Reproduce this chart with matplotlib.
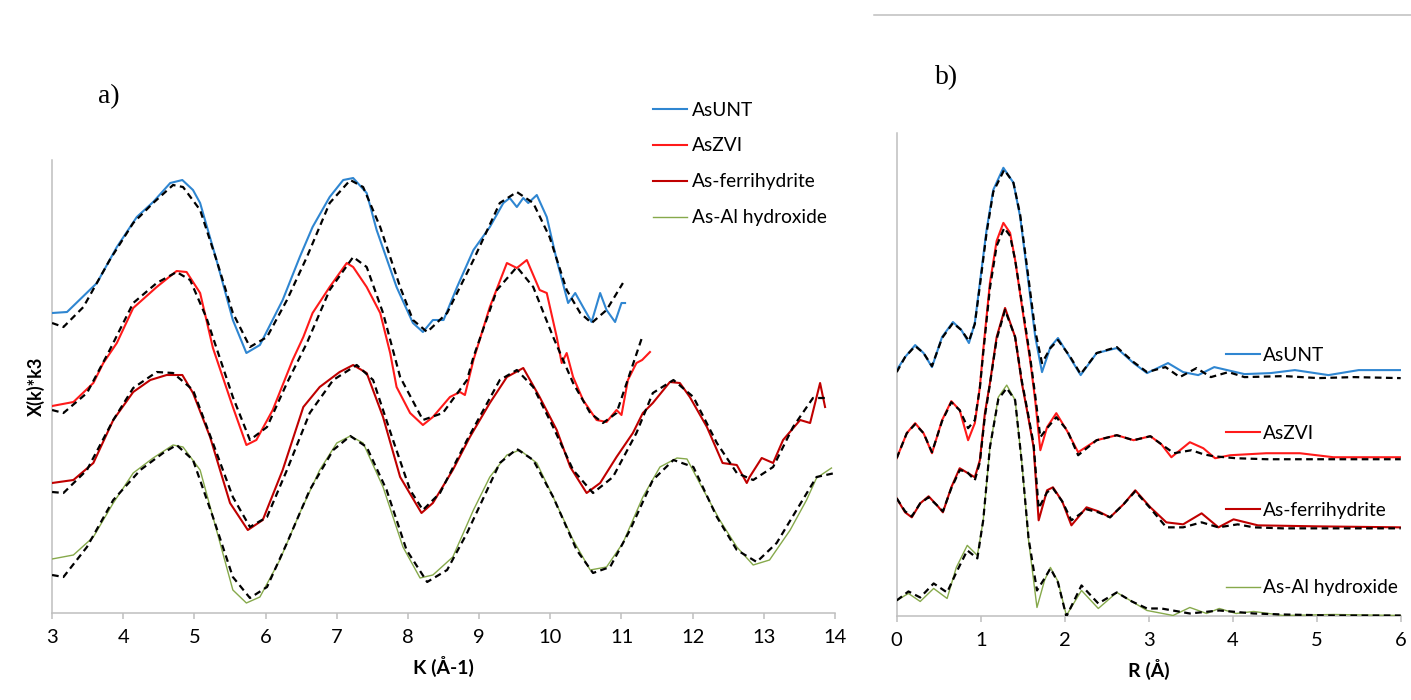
import matplotlib
matplotlib.use('Agg')
import matplotlib.pyplot as plt
from matplotlib.lines import Line2D

plt.rcParams['font.family'] = ['Lato', 'DejaVu Sans']

# ---- k-space chi(k)*k^3, stacked (arbitrary offset units) ----
k_unt = [3.0, 3.21, 3.63, 3.91, 4.19, 4.42, 4.66, 4.83, 4.98, 5.08, 5.31, 5.54, 5.73, 5.92, 6.24, 6.48,
         6.66, 6.90, 7.09, 7.23, 7.42, 7.56, 7.84, 8.07, 8.21, 8.35, 8.50, 8.69, 8.92, 9.15, 9.34, 9.43,
         9.53, 9.62, 9.69, 9.81, 9.95, 10.09, 10.25, 10.35, 10.46, 10.58, 10.70, 10.79, 10.91, 11.0, 11.05]
chi_unt = [30.0, 30.1, 33.0, 36.6, 39.6, 41.1, 43.0, 43.3, 42.3, 41.0, 35.3, 29.3, 26.0, 26.8, 31.3, 35.6,
           38.6, 41.6, 43.3, 43.5, 42.0, 38.3, 32.6, 29.0, 28.1, 29.3, 29.3, 32.6, 36.3, 38.6, 41.0, 41.5,
           40.6, 41.5, 41.0, 41.8, 39.6, 35.3, 31.0, 32.0, 30.6, 29.1, 32.0, 30.3, 29.1, 31.0, 31.0]
k_unt_fit = [3.0, 3.16, 3.44, 3.81, 4.14, 4.42, 4.70, 4.84, 5.08, 5.31, 5.54, 5.78, 6.02, 6.30, 6.58, 6.90,
             7.19, 7.37, 7.61, 7.89, 8.07, 8.27, 8.55, 8.92, 9.29, 9.53, 9.76, 9.99, 10.23, 10.42, 10.58,
             10.79, 11.02]
chi_unt_fit = [29.0, 28.6, 30.6, 35.3, 39.0, 41.0, 42.8, 42.6, 40.3, 35.3, 30.0, 26.6, 27.6, 31.3, 35.6, 41.0,
               43.3, 42.6, 38.6, 32.6, 29.3, 28.1, 30.0, 35.3, 41.0, 42.1, 41.0, 37.6, 32.3, 30.0, 29.0,
               30.3, 33.0]

k_zvi = [3.0, 3.3, 3.58, 3.72, 3.91, 4.14, 4.47, 4.75, 4.89, 5.08, 5.26, 5.54, 5.73, 5.87, 6.10, 6.38,
         6.53, 6.66, 6.90, 7.14, 7.23, 7.42, 7.61, 7.75, 7.84, 8.03, 8.21, 8.35, 8.59, 8.73, 8.80, 8.92,
         9.15, 9.39, 9.53, 9.67, 9.85, 9.95, 10.09, 10.16, 10.23, 10.32, 10.46, 10.65, 10.79, 10.93, 11.0,
         11.09, 11.21, 11.29, 11.40]
chi_zvi = [20.7, 21.1, 23.0, 25.0, 27.0, 30.5, 32.6, 34.2, 34.1, 32.0, 26.5, 20.6, 16.8, 17.3, 20.3, 25.3,
           27.6, 30.0, 32.6, 35.0, 34.6, 32.6, 30.0, 26.0, 22.6, 20.0, 18.8, 19.6, 21.6, 22.1, 21.8, 25.3,
           30.6, 35.0, 34.5, 35.3, 32.3, 32.0, 27.6, 25.0, 26.0, 23.6, 21.3, 19.3, 19.1, 20.3, 19.8,
           23.3, 25.0, 25.3, 26.1]
k_zvi_fit = [3.0, 3.16, 3.49, 3.81, 4.14, 4.47, 4.75, 4.94, 5.17, 5.31, 5.54, 5.78, 6.02, 6.30, 6.58, 6.90,
             7.23, 7.42, 7.65, 7.89, 8.21, 8.49, 8.83, 8.92, 9.25, 9.53, 9.76, 10.04, 10.32, 10.56, 10.74,
             10.93, 11.12, 11.30]
chi_zvi_fit = [20.3, 20.0, 22.0, 26.3, 31.0, 33.0, 34.1, 33.3, 29.5, 26.5, 21.6, 17.3, 18.6, 23.0, 27.0, 32.3,
               35.6, 34.6, 30.0, 23.6, 19.3, 20.0, 23.3, 25.6, 32.3, 34.6, 32.6, 27.6, 23.0, 20.0, 19.0,
               20.0, 24.0, 27.8]

k_fh = [3.0, 3.3, 3.58, 3.86, 4.14, 4.38, 4.61, 4.83, 4.98, 5.22, 5.50, 5.75, 5.96, 6.24, 6.53, 6.76, 7.04,
        7.23, 7.42, 7.65, 7.89, 8.19, 8.35, 8.63, 8.87, 9.15, 9.39, 9.62, 9.85, 10.09, 10.28, 10.51, 10.70,
        10.93, 11.16, 11.30, 11.44, 11.68, 11.82, 11.96, 12.20, 12.42, 12.62, 12.76, 12.80, 12.97, 13.13,
        13.27, 13.51, 13.65, 13.79, 13.86]
chi_fh = [13.0, 13.3, 15.0, 19.3, 22.1, 23.3, 23.8, 23.8, 22.0, 17.6, 11.0, 8.3, 9.3, 14.3, 20.6, 22.6, 24.1,
          24.8, 24.0, 19.6, 13.6, 10.0, 11.0, 14.3, 17.6, 21.0, 23.6, 24.5, 21.6, 18.3, 14.6, 12.0, 13.0,
          15.6, 18.0, 20.0, 21.0, 23.1, 23.0, 21.6, 18.6, 15.0, 14.8, 13.0, 13.6, 15.5, 15.0,
          17.3, 19.3, 19.0, 23.0, 20.6]
k_fh_fit = [3.0, 3.16, 3.49, 3.86, 4.14, 4.47, 4.70, 4.98, 5.26, 5.54, 5.78, 6.02, 6.30, 6.62, 6.95, 7.28,
            7.51, 7.79, 8.03, 8.21, 8.45, 8.83, 9.29, 9.53, 9.76, 10.04, 10.32, 10.60, 10.88, 11.21, 11.44,
            11.73, 12.01, 12.34, 12.62, 12.85, 13.13, 13.41, 13.69, 13.88]
chi_fh_fit = [12.1, 12.0, 14.3, 19.3, 22.5, 24.1, 24.0, 22.3, 17.0, 11.6, 8.6, 9.6, 14.3, 20.0, 23.3, 24.8,
              23.3, 17.3, 12.3, 10.3, 12.0, 17.3, 23.3, 24.3, 22.6, 18.6, 14.3, 12.0, 13.6, 18.0, 22.0,
              23.3, 21.6, 17.0, 14.0, 13.3, 14.6, 18.6, 21.5, 21.5]

k_al = [3.0, 3.3, 3.58, 3.86, 4.14, 4.42, 4.70, 4.84, 5.08, 5.31, 5.54, 5.73, 5.92, 6.20, 6.48, 6.76, 7.0,
        7.19, 7.37, 7.65, 7.93, 8.17, 8.35, 8.63, 8.92, 9.15, 9.39, 9.57, 9.81, 10.04, 10.32, 10.56, 10.79,
        11.02, 11.30, 11.54, 11.78, 11.92, 12.15, 12.38, 12.62, 12.85, 13.08, 13.37, 13.60, 13.74, 13.95]
chi_al = [5.4, 5.8, 7.6, 11.0, 14.0, 15.5, 16.8, 16.6, 14.3, 8.3, 2.3, 1.0, 1.6, 5.3, 10.0, 14.3, 17.0,
          17.7, 17.0, 12.6, 6.6, 3.5, 3.8, 5.6, 10.3, 13.6, 15.8, 16.3, 15.0, 11.6, 7.3, 4.3, 4.6,
          7.0, 11.6, 14.6, 15.5, 15.4, 12.3, 9.3, 6.6, 4.8, 5.3, 8.3, 11.3, 13.5, 14.5]
k_al_fit = [3.0, 3.16, 3.49, 3.86, 4.24, 4.56, 4.75, 4.98, 5.26, 5.54, 5.78, 6.02, 6.30, 6.62, 6.95, 7.19,
            7.42, 7.70, 7.98, 8.27, 8.55, 8.83, 9.29, 9.53, 9.76, 10.04, 10.37, 10.60, 10.84, 11.12, 11.44,
            11.73, 12.01, 12.34, 12.62, 12.90, 13.18, 13.46, 13.74, 14.0]
chi_al_fit = [3.8, 3.6, 6.6, 11.3, 14.3, 16.0, 16.8, 15.3, 9.6, 3.6, 1.5, 2.6, 7.0, 12.3, 16.3, 17.7,
              16.6, 12.3, 6.3, 3.1, 4.3, 8.0, 15.0, 16.4, 15.3, 11.6, 6.3, 4.0, 4.6, 8.3, 13.3,
              15.3, 14.6, 9.6, 6.3, 5.1, 7.0, 10.3, 13.6, 14.0]

# ---- R-space Fourier transform magnitude, stacked ----
r_unt = [0.0, 0.10, 0.22, 0.32, 0.42, 0.54, 0.67, 0.77, 0.86, 0.93, 0.99, 1.07, 1.15, 1.27, 1.39, 1.47, 1.55,
         1.65, 1.73, 1.83, 1.92, 2.06, 2.19, 2.38, 2.62, 2.82, 2.98, 3.23, 3.41, 3.59, 3.78, 4.14, 4.45,
         4.74, 5.14, 5.50, 6.0]
ft_unt = [24.6, 25.9, 27.1, 26.3, 24.9, 27.9, 29.4, 28.6, 27.3, 29.3, 33.3, 38.6, 42.6, 44.8, 43.3, 39.9, 34.6,
          27.9, 24.4, 26.9, 27.8, 25.9, 24.1, 26.3, 26.8, 25.3, 24.3, 25.3, 24.4, 24.1, 24.9, 24.2, 24.3,
          24.6, 24.1, 24.6, 24.6]
r_unt_fit = [0.0, 0.10, 0.22, 0.32, 0.42, 0.54, 0.67, 0.77, 0.86, 0.93, 0.99, 1.07, 1.15, 1.28, 1.39, 1.47,
             1.55, 1.65, 1.73, 1.83, 1.92, 2.06, 2.19, 2.38, 2.62, 2.82, 2.98, 3.20, 3.37, 3.57, 3.74, 3.95,
             4.14, 4.62, 5.02, 5.44, 6.0]
ft_unt_fit = [24.4, 25.9, 27.0, 26.3, 25.0, 27.8, 29.3, 28.6, 27.5, 29.2, 33.0, 38.3, 42.4, 44.6, 43.3, 40.1,
              35.0, 28.5, 25.3, 26.8, 27.6, 26.0, 24.2, 26.3, 26.9, 25.4, 24.4, 24.9, 23.9, 24.8, 23.9, 24.4,
              23.9, 24.0, 23.8, 23.9, 23.8]

r_zvi = [0.0, 0.12, 0.22, 0.32, 0.42, 0.54, 0.65, 0.75, 0.85, 0.93, 0.99, 1.03, 1.11, 1.19, 1.27, 1.35, 1.41,
         1.51, 1.59, 1.65, 1.71, 1.79, 1.90, 2.03, 2.16, 2.38, 2.62, 2.82, 3.02, 3.15, 3.27, 3.49, 3.65, 3.79,
         3.97, 4.40, 4.80, 5.2, 6.0]
ft_zvi = [15.8, 18.3, 19.3, 18.3, 16.3, 19.6, 21.5, 20.6, 17.6, 19.3, 22.9, 26.6, 33.3, 37.5, 39.3, 38.3, 35.6,
          29.9, 25.5, 21.5, 16.6, 18.9, 20.3, 18.5, 16.4, 17.6, 18.1, 17.6, 18.0, 17.2, 15.9, 17.4, 16.8, 15.8,
          16.1, 16.3, 16.3, 15.9, 15.9]
r_zvi_fit = [0.0, 0.12, 0.22, 0.32, 0.42, 0.54, 0.65, 0.75, 0.85, 0.93, 0.99, 1.03, 1.11, 1.19, 1.28, 1.35,
             1.41, 1.51, 1.59, 1.65, 1.71, 1.79, 1.90, 2.03, 2.16, 2.38, 2.62, 2.82, 3.02, 3.15, 3.30, 3.51,
             3.65, 3.77, 4.04, 4.41, 5.02, 6.0]
ft_zvi_fit = [15.8, 18.3, 19.2, 18.3, 16.4, 19.5, 21.4, 20.6, 18.8, 19.6, 22.8, 26.3, 32.8, 37.0, 38.8, 38.0,
              35.6, 30.2, 25.8, 22.0, 17.9, 18.8, 19.9, 18.6, 16.1, 17.6, 18.1, 17.6, 18.0, 17.2, 16.3, 16.6,
              16.2, 16.0, 15.8, 15.7, 15.7, 15.7]

r_fh = [0.0, 0.10, 0.18, 0.28, 0.38, 0.48, 0.55, 0.65, 0.75, 0.83, 0.93, 0.99, 1.05, 1.11, 1.19, 1.29, 1.41,
        1.49, 1.56, 1.63, 1.69, 1.79, 1.86, 1.97, 2.08, 2.26, 2.40, 2.54, 2.70, 2.84, 3.02, 3.21, 3.41, 3.63,
        3.83, 4.01, 4.30, 5.0, 6.0]
ft_fh = [11.8, 10.4, 9.9, 11.3, 12.0, 11.1, 10.4, 12.9, 14.8, 14.4, 13.9, 15.6, 20.3, 23.3, 27.9, 30.8, 27.9,
         23.3, 20.2, 16.9, 9.6, 12.6, 12.9, 11.5, 9.1, 10.9, 10.5, 9.9, 11.2, 12.6, 10.9, 9.4, 9.2, 10.3,
         8.9, 9.7, 9.1, 9.0, 8.9]
r_fh_fit = [0.0, 0.10, 0.18, 0.28, 0.38, 0.48, 0.55, 0.65, 0.75, 0.83, 0.93, 0.99, 1.05, 1.11, 1.19, 1.29, 1.41,
            1.49, 1.56, 1.63, 1.69, 1.79, 1.86, 1.97, 2.08, 2.26, 2.40, 2.54, 2.70, 2.84, 3.02, 3.21, 3.41, 3.63,
            3.83, 4.06, 4.25, 4.6, 5.0, 6.0]
ft_fh_fit = [11.8, 10.5, 10.0, 11.3, 11.9, 11.1, 10.5, 12.8, 14.6, 14.5, 13.6, 15.4, 20.0, 23.2, 27.7, 30.6,
             27.9, 23.5, 20.4, 17.2, 10.8, 12.4, 12.8, 11.5, 9.6, 10.7, 10.4, 9.9, 11.2, 12.5, 10.8, 8.9, 8.9,
             9.4, 8.9, 9.2, 8.9, 8.8, 8.8, 8.8]

r_al = [0.0, 0.14, 0.28, 0.44, 0.60, 0.71, 0.84, 0.96, 1.03, 1.11, 1.21, 1.31, 1.41, 1.49, 1.57, 1.67, 1.76,
        1.83, 1.92, 2.02, 2.20, 2.40, 2.62, 2.80, 2.98, 3.29, 3.49, 3.69, 3.84, 4.04, 4.25, 4.6, 5.2, 6.0]
ft_al = [1.6, 2.3, 1.5, 2.8, 1.8, 4.9, 7.1, 6.1, 9.6, 16.9, 21.9, 23.1, 21.6, 15.3, 7.6, 0.9, 3.6,
         4.9, 3.5, 0.1, 2.6, 0.8, 2.4, 1.5, 0.6, 0.1, 0.9, 0.3, 0.8, 0.3, 0.5, 0.1, 0.2, 0.1]
r_al_fit = [0.0, 0.14, 0.28, 0.44, 0.60, 0.71, 0.84, 0.96, 1.03, 1.11, 1.21, 1.31, 1.41, 1.49, 1.57, 1.67,
            1.76, 1.83, 1.92, 2.02, 2.20, 2.40, 2.62, 2.80, 2.98, 3.15, 3.49, 3.84, 4.25, 4.6, 5.2, 6.0]
ft_al_fit = [1.6, 2.5, 1.9, 3.3, 2.4, 4.4, 6.6, 5.8, 9.6, 16.9, 21.7, 22.8, 21.6, 15.3, 7.8, 2.6,
             3.8, 4.8, 3.4, 0.0, 3.1, 1.3, 2.4, 1.5, 0.8, 0.8, 0.3, 0.6, 0.3, 0.2, 0.1, 0.1]

labels = ['AsUNT', 'AsZVI', 'As-ferrihydrite', 'As-Al hydroxide']
colors = ['#2F86D1', '#FF1A1A', '#C00000', '#86A94B']
widths = [1.5, 1.5, 1.5, 1.0]

AXIS_GREY = '#BFBFBF'
FIT_STYLE = dict(color='black', linestyle=(0, (3, 2)), linewidth=1.6, zorder=5)


def style_axes(ax, xlim, ylim, xticks, xlabel):
    ax.set_xlim(*xlim)
    ax.set_ylim(*ylim)
    ax.set_xticks(xticks)
    ax.set_yticks([])
    for side in ('top', 'right'):
        ax.spines[side].set_visible(False)
    for side in ('left', 'bottom'):
        ax.spines[side].set_color(AXIS_GREY)
        ax.spines[side].set_linewidth(1.1)
    ax.tick_params(axis='x', direction='out', length=4.5, width=1.1, color=AXIS_GREY,
                   labelsize=14.5, pad=7)
    ax.set_xlabel(xlabel, fontsize=14, fontweight='bold', labelpad=7)


fig = plt.figure(figsize=(14.11, 7.0), dpi=100)

# a) k-space
ax1 = fig.add_axes([0.0369, 0.1243, 0.5549, 0.6471])
k_data = [(k_unt, chi_unt), (k_zvi, chi_zvi), (k_fh, chi_fh), (k_al, chi_al)]
k_fits = [(k_unt_fit, chi_unt_fit), (k_zvi_fit, chi_zvi_fit), (k_fh_fit, chi_fh_fit), (k_al_fit, chi_al_fit)]
handles = []
for (x, y), (xf, yf), lab, c, w in zip(k_data, k_fits, labels, colors, widths):
    h, = ax1.plot(x, y, color=c, linewidth=w, label=lab, zorder=3)
    ax1.plot(xf, yf, **FIT_STYLE)
    handles.append(h)
style_axes(ax1, (3, 14), (0, 45.3), range(3, 15), 'K (Å-1)')
ax1.set_ylabel('X(k)*k3', fontsize=13, fontweight='bold', labelpad=5)
fig.legend(handles=handles, loc='upper left', bbox_to_anchor=(0.4625, 0.855),
           frameon=False, fontsize=13.8, handlelength=1.8, handletextpad=0.25,
           labelspacing=0.99, borderpad=0, borderaxespad=0)
fig.text(0.077, 0.862, 'a)', fontsize=20, family='Liberation Serif', ha='center', va='center')

# b) R-space
ax2 = fig.add_axes([0.6355, 0.1193, 0.3572, 0.6911])
r_data = [(r_unt, ft_unt), (r_zvi, ft_zvi), (r_fh, ft_fh), (r_al, ft_al)]
r_fits = [(r_unt_fit, ft_unt_fit), (r_zvi_fit, ft_zvi_fit), (r_fh_fit, ft_fh_fit), (r_al_fit, ft_al_fit)]
handles = []
for (x, y), (xf, yf), lab, c, w in zip(r_data, r_fits, labels, colors, widths):
    h, = ax2.plot(x, y, color=c, linewidth=w, label=lab, zorder=3)
    ax2.plot(xf, yf, **FIT_STYLE)
    handles.append(h)
style_axes(ax2, (0, 6), (0, 48.3), range(0, 7), 'R (Å)')
fig.legend(handles=handles, loc='upper left', bbox_to_anchor=(0.8689, 0.504),
           frameon=False, fontsize=13.8, handlelength=1.75, handletextpad=0.2,
           labelspacing=3.15, borderpad=0, borderaxespad=0)
fig.text(0.6705, 0.889, 'b)', fontsize=20, family='Liberation Serif', ha='center', va='center')

# thin rule across the top of panel b
fig.add_artist(Line2D([874 / 1411, 1.0], [1 - 15 / 700, 1 - 15 / 700], color=AXIS_GREY, linewidth=1.1))

fig.savefig('out.png', dpi=100)
plt.close(fig)
